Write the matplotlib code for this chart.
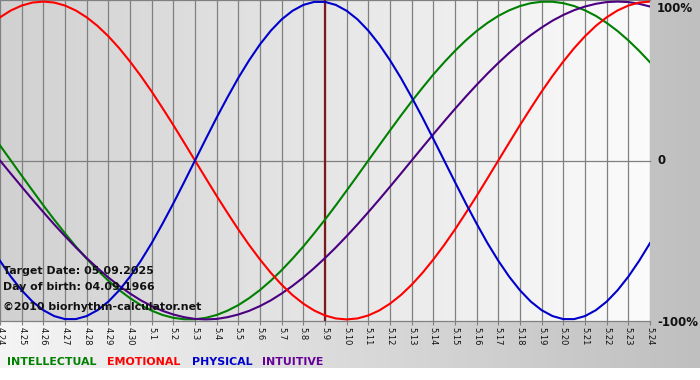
import numpy as np
import matplotlib
matplotlib.use('Agg')
import matplotlib.pyplot as plt

# day labels (month.day), 4.24 .. 5.24
days = ['4.24', '4.25', '4.26', '4.27', '4.28', '4.29', '4.30',
        '5.1', '5.2', '5.3', '5.4', '5.5', '5.6', '5.7', '5.8', '5.9',
        '5.10', '5.11', '5.12', '5.13', '5.14', '5.15', '5.16', '5.17',
        '5.18', '5.19', '5.20', '5.21', '5.22', '5.23', '5.24']
target_day = '5.9'

# values every half day (-1 = -100%, 1 = 100%)
physical = [-0.631, -0.731, -0.817, -0.888, -0.942, -0.979, -0.998, -0.998, -0.979, -0.942,
            -0.888, -0.817, -0.731, -0.631, -0.520, -0.398, -0.270, -0.136, 0.000, 0.136,
            0.270, 0.398, 0.520, 0.631, 0.731, 0.817, 0.888, 0.942, 0.979, 0.998,
            0.998, 0.979, 0.942, 0.888, 0.817, 0.731, 0.631, 0.520, 0.398, 0.270,
            0.136, 0.000, -0.136, -0.270, -0.398, -0.520, -0.631, -0.731, -0.817, -0.888,
            -0.942, -0.979, -0.998, -0.998, -0.979, -0.942, -0.888, -0.817, -0.731, -0.631,
            -0.520]
emotional = [0.901, 0.944, 0.975, 0.994, 1.000, 0.994, 0.975, 0.944, 0.901, 0.847,
             0.782, 0.707, 0.623, 0.532, 0.434, 0.330, 0.223, 0.112, 0.000, -0.112,
             -0.223, -0.330, -0.434, -0.532, -0.623, -0.707, -0.782, -0.847, -0.901, -0.944,
             -0.975, -0.994, -1.000, -0.994, -0.975, -0.944, -0.901, -0.847, -0.782, -0.707,
             -0.623, -0.532, -0.434, -0.330, -0.223, -0.112, 0.000, 0.112, 0.223, 0.330,
             0.434, 0.532, 0.623, 0.707, 0.782, 0.847, 0.901, 0.944, 0.975, 0.994,
             1.000]
intellectual = [0.095, 0.000, -0.095, -0.189, -0.282, -0.372, -0.458, -0.541, -0.618, -0.690,
                -0.756, -0.815, -0.866, -0.910, -0.945, -0.972, -0.990, -0.999, -0.999, -0.990,
                -0.972, -0.945, -0.910, -0.866, -0.815, -0.756, -0.690, -0.618, -0.541, -0.458,
                -0.372, -0.282, -0.189, -0.095, 0.000, 0.095, 0.189, 0.282, 0.372, 0.458,
                0.541, 0.618, 0.690, 0.756, 0.815, 0.866, 0.910, 0.945, 0.972, 0.990,
                0.999, 0.999, 0.990, 0.972, 0.945, 0.910, 0.866, 0.815, 0.756, 0.690,
                0.618]
intuitive = [0.000, -0.083, -0.165, -0.246, -0.325, -0.402, -0.476, -0.547, -0.614, -0.677,
             -0.736, -0.789, -0.837, -0.880, -0.916, -0.946, -0.969, -0.986, -0.997, -1.000,
             -0.997, -0.986, -0.969, -0.946, -0.916, -0.880, -0.837, -0.789, -0.736, -0.677,
             -0.614, -0.547, -0.476, -0.402, -0.325, -0.246, -0.165, -0.083, 0.000, 0.083,
             0.165, 0.246, 0.325, 0.402, 0.476, 0.547, 0.614, 0.677, 0.736, 0.789,
             0.837, 0.880, 0.916, 0.946, 0.969, 0.986, 0.997, 1.000, 0.997, 0.986,
             0.969]

y_labels = ['-100%', '0', '100%']
legend_names = ['INTELLECTUAL', 'EMOTIONAL', 'PHYSICAL', 'INTUITIVE']
info_lines = ['Target Date: 05.09.2025', 'Day of birth: 04.09.1966',
              '\u00a92010 biorhythm-calculator.net']

c_int = '#008000'
c_emo = '#ff0000'
c_phy = '#0000cc'
c_itu = '#4b0082'
grid_c = '#808080'

W, H = 700, 380
fig = plt.figure(figsize=(W / 100, H / 100), dpi=100)

# background: horizontal gradient band, white strip at the very bottom
bg = fig.add_axes([0, 0, 1, 1])
bg.set_axis_off()
grad = np.linspace(0.96, 0.75, 256)
band = np.tile(grad, (2, 1))
bg.imshow(np.dstack([band] * 3), extent=(0, W, H - 368, H), aspect='auto', zorder=0)
bg.set_xlim(0, W)
bg.set_ylim(0, H)

# plot area
pw, ph = 650, 321
ax = fig.add_axes([0, 1 - ph / H, pw / W, ph / H])
x = np.arange(len(days))
xh = np.arange(len(physical)) / 2
g = np.linspace(0.82, 0.985, 256)
ax.imshow(np.dstack([np.tile(g, (2, 1))] * 3), extent=(0, len(days) - 1, -1.01, 1.01),
          aspect='auto', zorder=0)

for xi in x:
    ax.axvline(xi, color=grid_c, lw=0.9, zorder=1)
for yv in (-1.01, 0, 1.01):
    ax.axhline(yv, color=grid_c, lw=0.9, zorder=1, clip_on=False)

ax.axvline(days.index(target_day), color='#7a1a1a', lw=1.6, zorder=2)

ax.plot(xh, intellectual, color=c_int, lw=1.5, zorder=3)
ax.plot(xh, intuitive, color=c_itu, lw=1.5, zorder=3)
ax.plot(xh, emotional, color=c_emo, lw=1.5, zorder=3)
ax.plot(xh, physical, color=c_phy, lw=1.5, zorder=3)

ax.set_xlim(0, len(days) - 1)
ax.set_ylim(-1.01, 1.01)
for s in ax.spines.values():
    s.set_visible(False)
ax.set_xticks(x)
ax.set_xticklabels(days, rotation=270, fontsize=6, color='#111111')
ax.tick_params(axis='x', length=3, color=grid_c, pad=1.5)
ax.set_yticks([])

for lab, yp in zip(y_labels, (322, 161, 8)):
    fig.text(657 / W, 1 - yp / H, lab, ha='left', va='center', fontsize=8.5,
             fontweight='bold', color='#111111')

for txt, yp in zip(info_lines, (271, 287, 307)):
    fig.text(3 / W, 1 - yp / H, txt, ha='left', va='center', fontsize=7.9,
             fontweight='bold', color='#111111', zorder=10)

for name, col, xp in zip(legend_names, ['#008000', '#ff0000', '#0000cc', '#660099'],
                         (7, 107, 192, 262)):
    fig.text(xp / W, 1 - 362 / H, name, ha='left', va='center', fontsize=7.9,
             fontweight='bold', color=col)

fig.savefig('out.png', dpi=100)
